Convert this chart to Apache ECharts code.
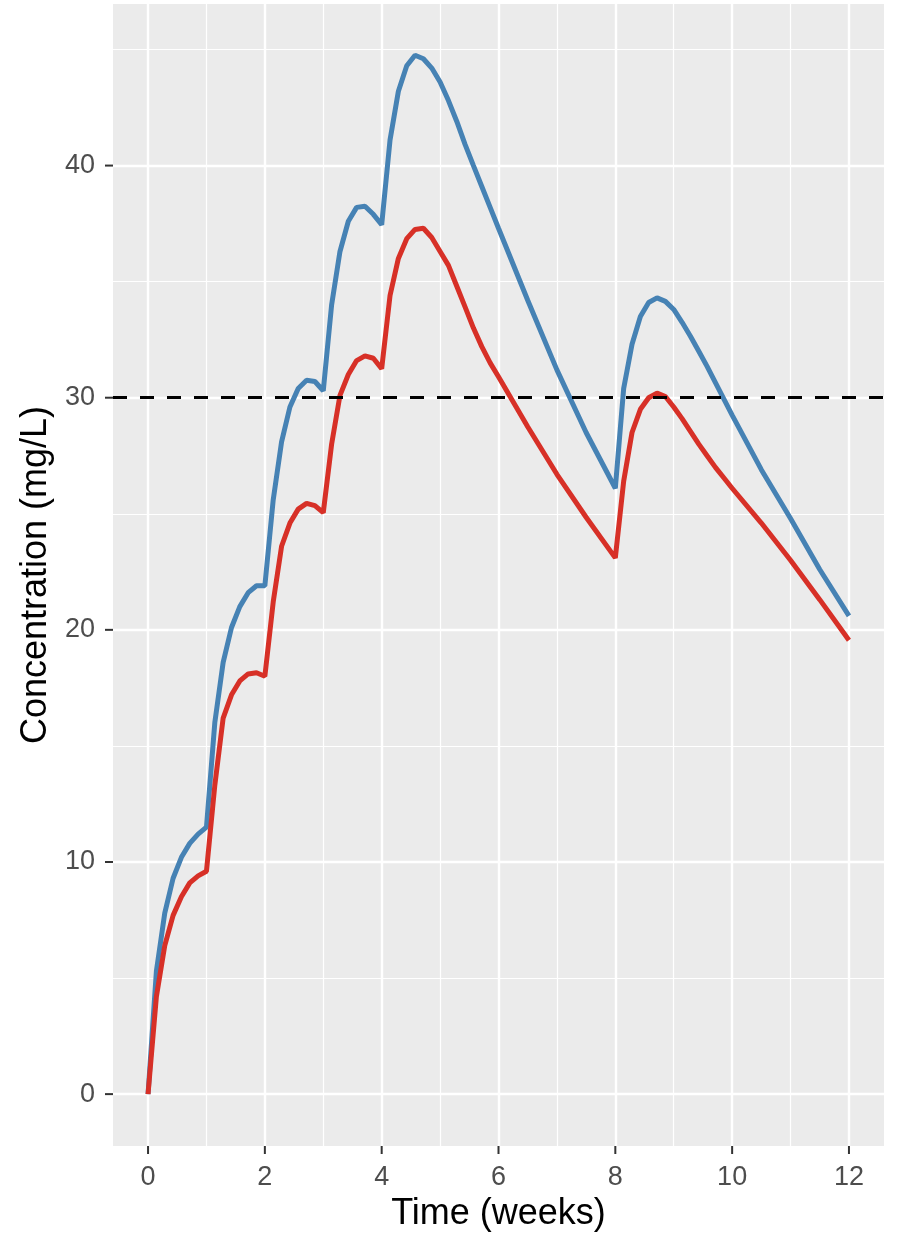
<!DOCTYPE html>
<html>
<head>
<meta charset="utf-8">
<script src="https://cdn.jsdelivr.net/npm/echarts@6/dist/echarts.min.js"></script>
<style>
html,body{margin:0;padding:0;background:#fff;}
#chart{width:897px;height:1237px;}
</style>
</head>
<body>
<div id="chart"></div>
<script>
// Time (weeks) and concentration (mg/L)
const seriesBlue = [
  [0,0],
  [0.143,5.3],[0.286,7.8],[0.429,9.3],[0.571,10.2],[0.714,10.8],[0.857,11.2],[1.0,11.5],
  [1.143,16.0],[1.286,18.6],[1.429,20.1],[1.571,21.0],[1.714,21.6],[1.857,21.9],[2.0,21.9],
  [2.143,25.6],[2.286,28.1],[2.429,29.6],[2.571,30.4],[2.714,30.75],[2.857,30.7],[3.0,30.3],
  [3.143,34.0],[3.286,36.3],[3.429,37.6],[3.571,38.2],[3.714,38.25],[3.857,37.9],[4.0,37.45],
  [4.143,41.1],[4.286,43.2],[4.429,44.3],[4.571,44.75],[4.714,44.6],[4.857,44.2],[5.0,43.6],
  [5.143,42.8],[5.286,41.9],[5.429,40.9],[5.571,40.0],[5.714,39.1],[5.857,38.2],[6.0,37.3],
  [6.5,34.2],[7.0,31.2],[7.5,28.5],[8.0,26.1],
  [8.143,30.4],[8.286,32.3],[8.429,33.5],[8.571,34.1],[8.714,34.3],[8.857,34.15],[9.0,33.8],
  [9.143,33.25],[9.286,32.65],[9.429,32.0],[9.571,31.35],[9.714,30.65],[9.857,29.95],[10.0,29.25],
  [10.5,26.9],[11.0,24.8],[11.5,22.6],[12.0,20.6]
];
const seriesRed = [
  [0,0],
  [0.143,4.2],[0.286,6.4],[0.429,7.7],[0.571,8.5],[0.714,9.1],[0.857,9.4],[1.0,9.6],
  [1.143,13.3],[1.286,16.2],[1.429,17.2],[1.571,17.8],[1.714,18.1],[1.857,18.15],[2.0,18.0],
  [2.143,21.2],[2.286,23.6],[2.429,24.6],[2.571,25.2],[2.714,25.45],[2.857,25.35],[3.0,25.05],
  [3.143,28.0],[3.286,30.1],[3.429,31.0],[3.571,31.6],[3.714,31.8],[3.857,31.7],[4.0,31.25],
  [4.143,34.4],[4.286,36.0],[4.429,36.85],[4.571,37.25],[4.714,37.3],[4.857,36.9],[5.0,36.3],
  [5.143,35.7],[5.286,34.8],[5.429,33.9],[5.571,33.0],[5.714,32.2],[5.857,31.5],[6.0,30.9],
  [6.5,28.75],[7.0,26.7],[7.5,24.85],[8.0,23.1],
  [8.143,26.4],[8.286,28.5],[8.429,29.5],[8.571,30.0],[8.714,30.2],[8.857,30.05],[9.0,29.6],
  [9.143,29.1],[9.286,28.55],[9.429,28.0],[9.571,27.5],[9.714,27.0],[9.857,26.55],[10.0,26.1],
  [10.5,24.6],[11.0,23.0],[11.5,21.3],[12.0,19.55]
];
const xTicks = [0,2,4,6,8,10,12];
const xMinor = [1,3,5,7,9,11];
const yTicks = [0,10,20,30,40];
const yMinor = [5,15,25,35,45];
const threshold = 30;

const X_MIN = -0.6, X_MAX = 12.6, Y_MIN = -2.235, Y_MAX = 46.96;
const TICK_LEN = 8;

const font = "'Liberation Sans', Arial, sans-serif";
const chart = echarts.init(document.getElementById('chart'), null, {renderer:'canvas'});

const gridLines = [];
xMinor.forEach(v => gridLines.push({xAxis: v, lineStyle:{color:'#fff', width:1.2, type:'solid'}}));
yMinor.forEach(v => gridLines.push({yAxis: v, lineStyle:{color:'#fff', width:1.2, type:'solid'}}));
xTicks.forEach(v => gridLines.push({xAxis: v, lineStyle:{color:'#fff', width:2.4, type:'solid'}}));
yTicks.forEach(v => gridLines.push({yAxis: v, lineStyle:{color:'#fff', width:2.4, type:'solid'}}));

// tick marks placed via the axes' own scales
function tickSeries(values, isX) {
  return {
    type:'custom', coordinateSystem:'cartesian2d', clip:false, silent:true, z:2,
    data: values.map(v => isX ? [v, Y_MIN] : [X_MIN, v]),
    renderItem: function (params, api) {
      const p = api.coord([api.value(0), api.value(1)]);
      const shape = isX
        ? {x1:p[0], y1:p[1], x2:p[0], y2:p[1] + TICK_LEN}
        : {x1:p[0] - TICK_LEN, y1:p[1], x2:p[0], y2:p[1]};
      return {type:'line', shape:shape, style:{stroke:'#333333', lineWidth:2}};
    }
  };
}

chart.setOption({
  animation: false,
  backgroundColor: '#ffffff',
  grid: {left:113, right:13, top:4, bottom:88, show:true, backgroundColor:'#EBEBEB', borderWidth:0, z:0},
  xAxis: {
    type:'value', min:X_MIN, max:X_MAX,
    name:'Time (weeks)', nameLocation:'middle', nameGap:50,
    nameTextStyle:{fontFamily:font, fontSize:36, color:'#000'},
    axisLine:{show:false},
    axisTick:{show:false},
    axisLabel:{show:true, fontFamily:font, fontSize:27, color:'#4D4D4D', margin:18, customValues:xTicks},
    splitLine:{show:false}
  },
  yAxis: {
    type:'value', min:Y_MIN, max:Y_MAX,
    name:'Concentration (mg/L)', nameLocation:'middle', nameGap:53, nameRotate:90,
    nameTextStyle:{fontFamily:font, fontSize:36, color:'#000'},
    axisLine:{show:false},
    axisTick:{show:false},
    axisLabel:{show:true, fontFamily:font, fontSize:27, color:'#4D4D4D', margin:18, customValues:yTicks},
    splitLine:{show:false}
  },
  series: [
    {
      type:'line', data:[], silent:true, z:1,
      markLine:{silent:true, z:1, symbol:['none','none'], label:{show:false}, animation:false, data:gridLines}
    },
    tickSeries(xTicks, true),
    tickSeries(yTicks, false),
    {
      type:'line', name:'A', data:seriesBlue, showSymbol:false, smooth:false, z:3,
      lineStyle:{color:'#4682B4', width:5}, itemStyle:{color:'#4682B4'}
    },
    {
      type:'line', name:'B', data:seriesRed, showSymbol:false, smooth:false, z:3,
      lineStyle:{color:'#D73027', width:5}, itemStyle:{color:'#D73027'}
    },
    {
      type:'line', data:[], silent:true, z:6,
      markLine:{silent:true, z:6, symbol:['none','none'], label:{show:false}, animation:false,
        data:[{yAxis:threshold, lineStyle:{color:'#000', width:3, type:[14,13]}}]}
    }
  ]
});
</script>
</body>
</html>
